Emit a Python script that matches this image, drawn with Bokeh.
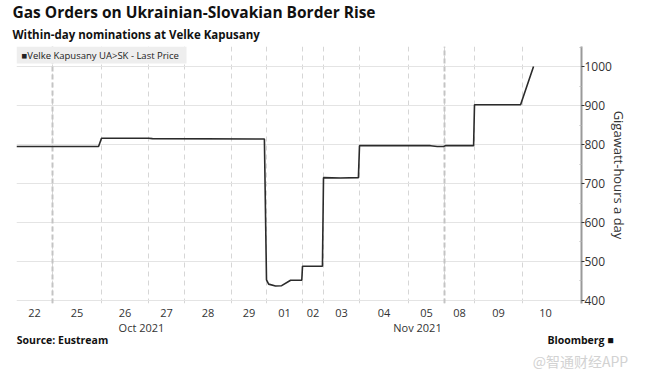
import numpy as np
from bokeh.plotting import figure
from bokeh.models import (Range1d, FixedTicker, Label, Grid, BoxAnnotation, ColumnDataSource,
                          LinearAxis, Title)
from bokeh.embed import file_html
from bokeh.resources import INLINE

# ---------------- data ----------------
days = ["22", "25", "26", "27", "28", "29", "01", "02", "03", "04", "05", "08", "09", "10"]
months = ["Oct 2021"] * 6 + ["Nov 2021"] * 8
# relative length of each trading session on the (gap-removed) time axis
day_width = [36, 49, 47, 36, 47, 35, 36, 21, 36, 49, 36, 30, 48, 46]
week_first_day = ["25", "08"]  # first session after a weekend

# series: session index, position inside session (0..1), nomination (GWh/day)
pt_day = [0, 1, 2, 3, 3, 5, 6, 6, 6, 6, 6, 6, 7, 7, 8, 8, 8, 9, 10, 10, 10, 11, 11, 12, 12, 13]
pt_frac = [0.0, 0.94, 0.0, 0.0, 0.11, 0.94, 0.0, 0.06, 0.25, 0.42, 0.67, 0.98, 0.0, 0.95,
           0.0, 0.47, 0.97, 0.0, 0.61, 0.8, 0.97, 0.03, 0.97, 0.0, 0.96, 0.24]
pt_val = [795, 795, 816, 816, 815, 814, 453, 442, 437, 438, 452, 452, 488, 488,
          715, 714, 715, 797, 797, 795, 795, 797, 797, 902, 902, 1000]

y_ticks = [400, 500, 600, 700, 800, 900, 1000]
y_minor = [450, 550, 650, 750, 850, 950, 1050]

# ---------------- derived ----------------
bounds = np.concatenate([[0], np.cumsum(day_width)])
centers = (bounds[:-1] + bounds[1:]) / 2
xs = [bounds[d] + f * day_width[d] for d, f in zip(pt_day, pt_frac)]
src = ColumnDataSource(dict(x=xs, y=pt_val))

FONT = "Open Sans"
TXT = "#333333"

p = figure(frame_width=565, frame_height=257,
           min_border_left=16, min_border_right=64, min_border_top=46, min_border_bottom=72,
           x_range=Range1d(0, 565), y_range=Range1d(392.3, 1051.3),
           y_axis_location="right", output_backend="svg", toolbar_location=None,
           background_fill_color="white", border_fill_color="white", title=None)
p.outline_line_color = None

# titles (first added sits closest to the plot)
p.add_layout(Title(text="Within-day nominations at Velke Kapusany", align="left", offset=-4,
                   standoff=10, text_font=FONT, text_font_style="bold",
                   text_font_size="11.5px", text_color="#111111"), "above")
p.add_layout(Title(text="Gas Orders on Ukrainian-Slovakian Border Rise", align="left", offset=-4,
                   standoff=-6, text_font=FONT, text_font_style="bold",
                   text_font_size="15.5px", text_color="#111111"), "above")

# x axis (day labels)
xa = p.xaxis[0]
xa.ticker = FixedTicker(ticks=list(centers))
xa.major_label_overrides = {float(c): d for c, d in zip(centers, days)}
xa.axis_line_color = None
xa.major_tick_line_color = None
xa.minor_tick_line_color = None
xa.major_tick_out = 0
xa.major_label_standoff = 5
xa.major_label_text_font = FONT
xa.major_label_text_font_size = "11px"
xa.major_label_text_color = TXT

# month axis
m_names, m_pos = [], []
for m in dict.fromkeys(months):
    idx = [i for i, mm in enumerate(months) if mm == m]
    m_names.append(m)
    m_pos.append(float((bounds[idx[0]] + bounds[idx[-1] + 1]) / 2))
ma = LinearAxis(ticker=FixedTicker(ticks=m_pos),
                major_label_overrides=dict(zip(m_pos, m_names)),
                axis_line_color=None, major_tick_line_color=None, minor_tick_line_color=None,
                major_tick_out=0, major_label_standoff=0,
                major_label_text_font=FONT, major_label_text_font_size="11px",
                major_label_text_color=TXT)
p.add_layout(ma, "below")

# footer axis: source and brand (label centres)
foot_pos = [46.0, 564.0]
foot_txt = ["Source: Eustream", "Bloomberg \u25a0"]
fa = LinearAxis(ticker=FixedTicker(ticks=foot_pos),
                major_label_overrides=dict(zip(foot_pos, foot_txt)),
                axis_line_color=None, major_tick_line_color=None, minor_tick_line_color=None,
                major_tick_out=0, major_label_standoff=-5,
                major_label_text_font=FONT, major_label_text_font_style="bold",
                major_label_text_font_size="10.5px", major_label_text_color="#111111")
p.add_layout(fa, "below")

# watermark
wm_pos = [564.0]
wa = LinearAxis(ticker=FixedTicker(ticks=wm_pos),
                major_label_overrides={564.0: "@智通财经APP"},
                axis_line_color=None, major_tick_line_color=None, minor_tick_line_color=None,
                major_tick_out=0, major_label_standoff=1,
                major_label_text_font="Noto Sans CJK SC",
                major_label_text_font_size="14px", major_label_text_color="#d2d2d2")
p.add_layout(wa, "below")

# y axis (right)
ya = p.yaxis[0]
ya.ticker = FixedTicker(ticks=y_ticks, minor_ticks=y_minor)
ya.axis_line_color = "#999999"
ya.axis_line_width = 2
ya.major_tick_line_color = "#333333"
ya.major_tick_in = 0
ya.major_tick_out = 3
ya.minor_tick_line_color = "#bbbbbb"
ya.minor_tick_in = 2
ya.minor_tick_out = 0
ya.major_label_standoff = 0
ya.major_label_text_font = FONT
ya.major_label_text_font_size = "12px"
ya.major_label_text_color = TXT
ya.axis_label = "Gigawatt-hours a day"
ya.axis_label_text_font = FONT
ya.axis_label_text_font_style = "normal"
ya.axis_label_text_font_size = "13px"
ya.axis_label_text_color = TXT
ya.axis_label_standoff = -5

# grids
p.ygrid.ticker = FixedTicker(ticks=y_ticks)
p.ygrid.grid_line_color = "#e4e4e4"
p.ygrid.grid_line_width = 1
p.xgrid.ticker = FixedTicker(ticks=list(bounds[:-1]))
p.xgrid.grid_line_color = "#d6d6d6"
p.xgrid.grid_line_dash = "5 4"
p.xgrid.grid_line_width = 1
wk = [float(bounds[days.index(d)]) for d in week_first_day]
p.add_layout(Grid(dimension=0, ticker=FixedTicker(ticks=wk),
                  grid_line_color="#c4c4c4", grid_line_dash="5 3", grid_line_width=2))

# series
p.line("x", "y", source=src, line_color="#2b2b2b", line_width=1.6)

# legend box
p.add_layout(BoxAnnotation(left=0, right=170, top=1051.3, bottom=1008,
                           fill_color="#eeeeee", fill_alpha=1, line_color=None, level="underlay"))
p.add_layout(Label(x=5, y=248, x_units="screen", y_units="screen",
                   text="\u25a0Velke Kapusany UA>SK - Last Price", text_font=FONT,
                   text_font_size="9.5px", text_color="#222222", text_baseline="middle"))

open("out.html", "w").write(file_html(p, INLINE))
